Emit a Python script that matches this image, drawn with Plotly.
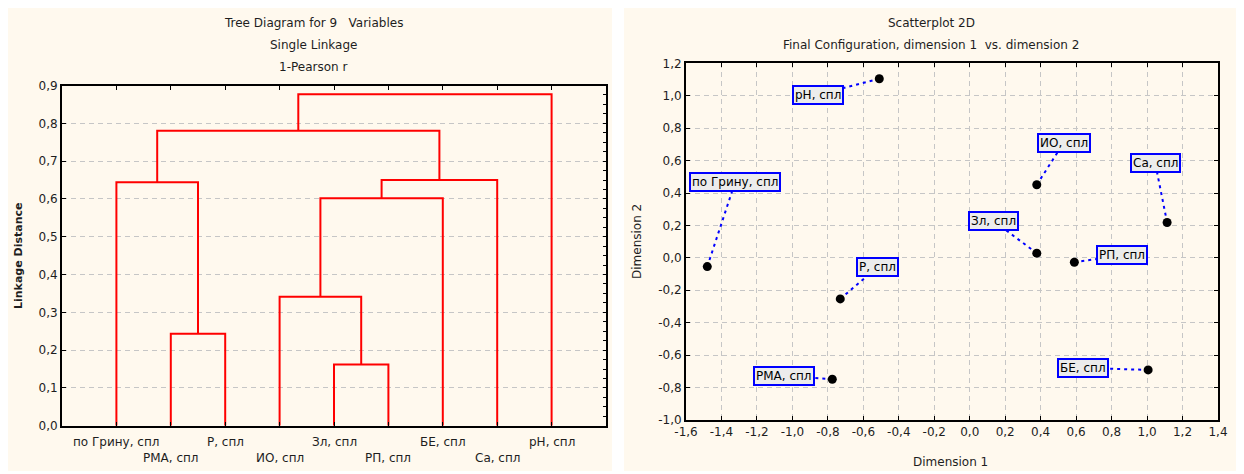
import numpy as np
import plotly.graph_objects as go

W, H = 1244, 474
OFF = 8  # page body margin of the html page (figure starts 8px in)

# ---------------- data: dendrogram ----------------
leaf_labels = ["по Грину, спл", "РМА, спл", "Р, спл", "ИО, спл", "Зл, спл",
               "РП, спл", "БЕ, спл", "Са, спл", "pH, спл"]
# merges: node ids 0..8 are leaves (display order); new nodes 9.. in merge order
merge_a = [4, 1, 3, 11, 0, 12, 13, 15]
merge_b = [5, 2, 9, 6, 10, 7, 14, 8]
merge_h = [0.162, 0.243, 0.341, 0.602, 0.644, 0.650, 0.780, 0.877]
dendro_yticks = [0.0, 0.1, 0.2, 0.3, 0.4, 0.5, 0.6, 0.7, 0.8, 0.9]
dendro_yticktext = ["0,0", "0,1", "0,2", "0,3", "0,4", "0,5", "0,6", "0,7", "0,8", "0,9"]

# ---------------- data: MDS scatter ----------------
mds_labels = ["pH, спл", "по Грину, спл", "Р, спл", "РМА, спл", "ИО, спл",
              "Са, спл", "Зл, спл", "РП, спл", "БЕ, спл"]
dim1 = [-0.51, -1.48, -0.73, -0.775, 0.378, 1.113, 0.378, 0.590, 1.006]
dim2 = [1.105, -0.054, -0.253, -0.749, 0.451, 0.218, 0.029, -0.027, -0.691]
mds_xticks = [-1.6, -1.4, -1.2, -1.0, -0.8, -0.6, -0.4, -0.2, 0.0, 0.2, 0.4, 0.6, 0.8, 1.0, 1.2, 1.4]
mds_xticktext = ["-1,6", "-1,4", "-1,2", "-1,0", "-0,8", "-0,6", "-0,4", "-0,2", "0,0",
                 "0,2", "0,4", "0,6", "0,8", "1,0", "1,2", "1,4"]
mds_yticks = [-1.0, -0.8, -0.6, -0.4, -0.2, 0.0, 0.2, 0.4, 0.6, 0.8, 1.0, 1.2]
mds_yticktext = ["-1,0", "-0,8", "-0,6", "-0,4", "-0,2", "0,0", "0,2", "0,4", "0,6",
                 "0,8", "1,0", "1,2"]

# label box offsets from point (screen pixels; style)
label_dx_px = [-61, 28, 37, -48, 27, -12, -43, 48, -65]
label_dy_px = [16, -85, -31.5, -3.5, -42, -60, -32, -7, -2]

# ---------------- layout geometry (screen pixels) ----------------
L_x0, L_x1, L_ytop, L_ybot = 62, 606, 85.5, 425.7
R_x0, R_x1, R_ytop, R_ybot = 686, 1218, 63.3, 420
FONT = "DejaVu Sans, Verdana, sans-serif"
FS = 12
TXT = "#1e1e1e"
GRID = dict(showgrid=True, gridcolor="#c6c6c6", gridwidth=1, griddash="5px,4px")

def px(x):
    return (x - OFF) / W

def py(y):
    return 1 - (y - OFF) / H

# ---------------- dendrogram geometry ----------------
n = len(leaf_labels)
node_x = {i: i + 1 for i in range(n)}
node_h = {i: 0.0 for i in range(n)}
dx, dy = [], []
for k, (a, b, h) in enumerate(zip(merge_a, merge_b, merge_h)):
    xa, xb = node_x[a], node_x[b]
    dx += [xa, xa, xb, xb, None]
    dy += [node_h[a], h, h, node_h[b], None]
    node_x[n + k] = (xa + xb) / 2
    node_h[n + k] = h

fig = go.Figure()

fig.add_trace(go.Scatter(x=dx, y=dy, mode="lines",
                         line=dict(color="#ff0000", width=2),
                         xaxis="x", yaxis="y", hoverinfo="skip", showlegend=False))
# dummy trace for the right-side minor tick axis
fig.add_trace(go.Scatter(x=[1], y=[0], mode="markers", marker=dict(opacity=0),
                         xaxis="x", yaxis="y3", hoverinfo="skip", showlegend=False))

# ---------------- scatter ----------------
xr = (-1.6, 1.4)
yr = (-1.0, 1.2)
ux = (R_x1 - R_x0) / (xr[1] - xr[0])
uy = (R_ybot - R_ytop) / (yr[1] - yr[0])
lab_x = [x + ddx / ux for x, ddx in zip(dim1, label_dx_px)]
lab_y = [y - ddy / uy for y, ddy in zip(dim2, label_dy_px)]

cx, cy = [], []
for x0, y0, x1, y1 in zip(dim1, dim2, lab_x, lab_y):
    cx += [x0, x1, None]
    cy += [y0, y1, None]
fig.add_trace(go.Scatter(x=cx, y=cy, mode="lines",
                         line=dict(color="#0000ff", width=2, dash="3px,4px"),
                         xaxis="x2", yaxis="y2", hoverinfo="skip", showlegend=False))
fig.add_trace(go.Scatter(x=dim1, y=dim2, mode="markers",
                         marker=dict(color="black", size=9),
                         xaxis="x2", yaxis="y2", text=mds_labels, showlegend=False))

annotations = []
for lx, ly, t in zip(lab_x, lab_y, mds_labels):
    annotations.append(dict(x=lx, y=ly, xref="x2", yref="y2", text=t, showarrow=False,
                            font=dict(family=FONT, size=FS, color="black"),
                            bgcolor="#ececec", bordercolor="#0000ff", borderwidth=2,
                            borderpad=1, xanchor="center", yanchor="middle"))

# leaf labels (two staggered rows)
for i, t in enumerate(leaf_labels):
    yy = 441.5 if i % 2 == 0 else 457.5
    annotations.append(dict(x=i + 1, y=py(yy), xref="x", yref="paper", text=t,
                            showarrow=False, xanchor="center", yanchor="middle",
                            font=dict(family=FONT, size=FS, color=TXT)))

# titles
def txt(x, y, t, size=FS, angle=0, bold=False):
    annotations.append(dict(x=px(x), y=py(y), xref="paper", yref="paper",
                            text=("<b>%s</b>" % t) if bold else t, showarrow=False,
                            xanchor="center", yanchor="middle", textangle=angle,
                            font=dict(family=FONT, size=size, color=TXT)))

txt(313, 22.5, "Tree Diagram for 9&nbsp;&nbsp;&nbsp;Variables")
txt(313, 45, "Single Linkage")
txt(313, 67.5, "1-Pearson r")
txt(18, 256, "Linkage Distance", angle=-90, bold=True, size=11)
txt(931, 23, "Scatterplot 2D")
txt(931, 45.5, "Final Configuration, dimension 1&nbsp;&nbsp;vs. dimension 2")
txt(950, 461.5, "Dimension 1")
txt(637, 242, "Dimension 2", angle=-90)

shapes = [
    dict(type="rect", xref="paper", yref="paper", x0=px(7), x1=px(612), y0=py(471), y1=py(6),
         fillcolor="#fff9ee", line=dict(width=0), layer="below"),
    dict(type="rect", xref="paper", yref="paper", x0=px(624), x1=px(1240), y0=py(471), y1=py(6),
         fillcolor="#fff9ee", line=dict(width=0), layer="below"),
]

tickfont = dict(family=FONT, size=FS, color=TXT)
common = dict(automargin=False, fixedrange=True, zeroline=False)

fig.update_layout(
    width=W, height=H, autosize=False,
    margin=dict(l=0, r=0, t=0, b=0, pad=0, autoexpand=False),
    paper_bgcolor="white", plot_bgcolor="white", showlegend=False,
    shapes=shapes, annotations=annotations,
    xaxis=dict(domain=[px(L_x0), px(L_x1)], range=[0, 10], anchor="y",
               tickvals=list(range(1, n + 1)), showticklabels=False,
               ticks="inside", ticklen=4, tickcolor="black", tickwidth=1,
               showline=True, linecolor="black", linewidth=2, mirror="ticks",
               showgrid=False, **common),
    yaxis=dict(domain=[py(L_ybot), py(L_ytop)], range=[0, 0.9], anchor="x",
               tickvals=dendro_yticks, ticktext=dendro_yticktext, tickfont=tickfont,
               ticks="inside", ticklen=4, tickcolor="black", tickwidth=1,
               showline=True, linecolor="black", linewidth=2, mirror=True,
               **GRID, **common),
    yaxis3=dict(overlaying="y", side="right", anchor="x", range=[0, 0.9],
                tickvals=list(np.round(np.arange(0, 0.9001, 0.025), 3)),
                showticklabels=False, ticks="inside", ticklen=3, tickcolor="black",
                tickwidth=1, showline=False, showgrid=False, **common),
    xaxis2=dict(domain=[px(R_x0), px(R_x1)], range=list(xr), anchor="y2",
                tickvals=mds_xticks, ticktext=mds_xticktext, tickfont=tickfont,
                ticks="inside", ticklen=4, tickcolor="black", tickwidth=1,
                showline=True, linecolor="black", linewidth=2, mirror="ticks",
                **GRID, **common),
    yaxis2=dict(domain=[py(R_ybot), py(R_ytop)], range=list(yr), anchor="x2",
                tickvals=mds_yticks, ticktext=mds_yticktext, tickfont=tickfont,
                ticks="inside", ticklen=4, tickcolor="black", tickwidth=1,
                showline=True, linecolor="black", linewidth=2, mirror="ticks",
                **GRID, **common),
)

fig.write_html("out.html")
